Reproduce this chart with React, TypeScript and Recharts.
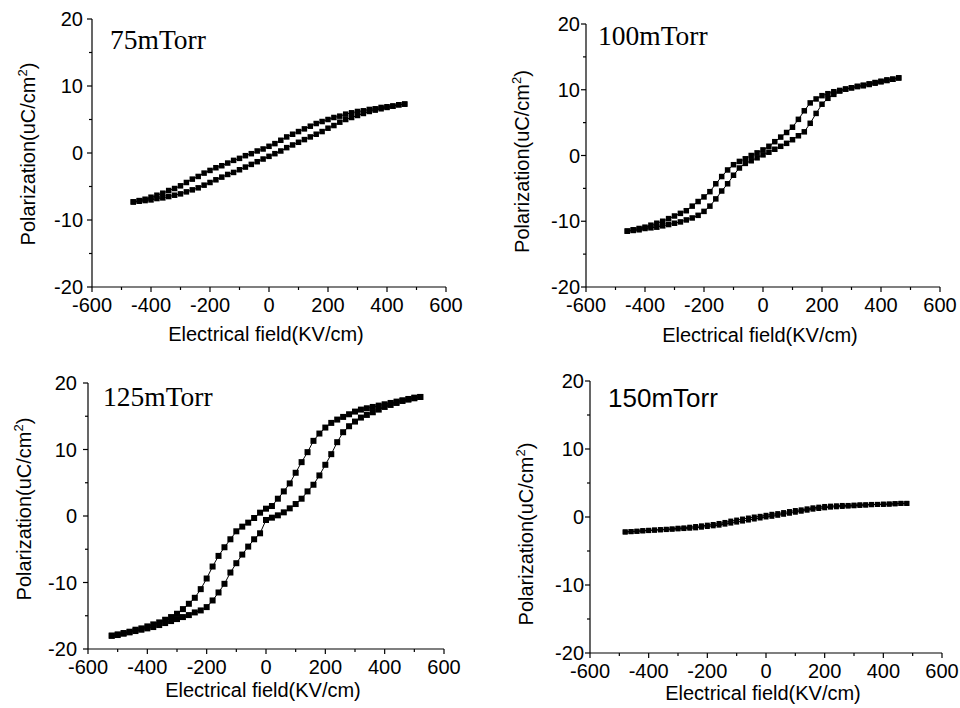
import React from 'react'
import { Scatter, ScatterChart, XAxis, YAxis } from 'recharts'

// electric field grids (KV/cm)
const FIELD_460 = [
  -460, -440, -420, -400, -380, -360, -340, -320, -300, -280, -260, -240, -220, -200, -180, -160,
  -140, -120, -100, -80, -60, -40, -20, 0, 20, 40, 60, 80, 100, 120, 140, 160, 180, 200, 220, 240,
  260, 280, 300, 320, 340, 360, 380, 400, 420, 440, 460,
]
const FIELD_480 = [
  -480, -460, -440, -420, -400, -380, -360, -340, -320, -300, -280, -260, -240, -220, -200, -180,
  -160, -140, -120, -100, -80, -60, -40, -20, 0, 20, 40, 60, 80, 100, 120, 140, 160, 180, 200, 220,
  240, 260, 280, 300, 320, 340, 360, 380, 400, 420, 440, 460, 480,
]
const FIELD_520 = [
  -520, -500, -480, -460, -440, -420, -400, -380, -360, -340, -320, -300, -280, -260, -240, -220,
  -200, -180, -160, -140, -120, -100, -80, -60, -40, -20, 0, 20, 40, 60, 80, 100, 120, 140, 160, 180,
  200, 220, 240, 260, 280, 300, 320, 340, 360, 380, 400, 420, 440, 460, 480, 500, 520,
]

// polarization (uC/cm2), both branches listed by increasing field
// "falling" = upper branch (field sweeping down), "rising" = lower branch
const P75_FALLING = [
  -7.3, -7.1, -6.9, -6.6, -6.3, -6.0, -5.6, -5.3, -4.9, -4.4, -3.9, -3.5, -3.0, -2.6, -2.2, -1.9,
  -1.5, -1.1, -0.8, -0.4, -0.1, 0.3, 0.6, 1.0, 1.4, 1.9, 2.4, 2.8, 3.2, 3.6, 4.0, 4.4, 4.7, 5.0, 5.3,
  5.5, 5.8, 6.0, 6.2, 6.3, 6.5, 6.6, 6.8, 6.9, 7.0, 7.2, 7.3,
]
const P75_RISING = [
  -7.3, -7.2, -7.1, -7.0, -6.8, -6.7, -6.5, -6.3, -6.1, -5.8, -5.5, -5.2, -4.8, -4.4, -4.0, -3.6,
  -3.2, -2.9, -2.5, -2.1, -1.7, -1.3, -0.9, -0.5, -0.1, 0.3, 0.8, 1.2, 1.6, 2.0, 2.4, 2.8, 3.2, 3.7,
  4.1, 4.6, 5.0, 5.3, 5.6, 5.9, 6.2, 6.4, 6.6, 6.8, 7.0, 7.2, 7.3,
]

const P100_FALLING = [
  -11.5, -11.3, -11.1, -10.9, -10.6, -10.3, -10.0, -9.6, -9.2, -8.8, -8.4, -7.7, -7.0, -6.3, -5.5,
  -4.3, -3.2, -2.2, -1.4, -0.9, -0.5, 0.0, 0.4, 0.85, 1.4, 2.1, 2.8, 3.5, 4.3, 5.5, 6.8, 8.0, 8.6,
  9.1, 9.4, 9.7, 9.9, 10.1, 10.3, 10.5, 10.6, 10.8, 11.0, 11.2, 11.4, 11.6, 11.8,
]
const P100_RISING = [
  -11.5, -11.4, -11.3, -11.1, -11.0, -10.9, -10.7, -10.5, -10.3, -10.1, -9.8, -9.5, -9.1, -8.5,
  -7.7, -6.6, -5.4, -4.3, -3.0, -1.9, -1.2, -0.8, -0.35, 0.1, 0.5, 0.95, 1.4, 1.85, 2.4, 3.0, 3.6,
  4.9, 6.4, 7.8, 8.7, 9.3, 9.8, 10.1, 10.3, 10.5, 10.7, 10.9, 11.1, 11.3, 11.5, 11.6, 11.8,
]

const P125_FALLING = [
  -18.0, -17.8, -17.6, -17.4, -17.1, -16.9, -16.6, -16.3, -16.0, -15.6, -15.2, -14.7, -14.0, -13.2,
  -12.3, -11.0, -9.4, -7.6, -6.0, -4.7, -3.5, -2.3, -1.6, -1.0, -0.3, 0.5, 1.1, 1.5, 2.6, 3.7, 4.9,
  6.5, 8.1, 9.6, 11.3, 12.4, 13.3, 14.0, 14.5, 14.9, 15.3, 15.7, 16.0, 16.2, 16.4, 16.6, 16.8, 17.0,
  17.2, 17.4, 17.6, 17.8, 17.9,
]
const P125_RISING = [
  -18.0, -17.9, -17.7, -17.5, -17.3, -17.1, -16.9, -16.7, -16.4, -16.1, -15.8, -15.5, -15.2, -14.9,
  -14.5, -14.2, -13.7, -12.7, -11.5, -10.2, -8.5, -7.1, -5.8, -4.6, -3.5, -2.6, -0.6, -0.25, 0.1,
  0.55, 1.15, 1.8, 2.6, 3.7, 4.7, 6.1, 7.7, 9.3, 11.1, 12.6, 13.5, 14.2, 14.8, 15.2, 15.6, 16.0, 16.4,
  16.7, 17.0, 17.3, 17.5, 17.7, 17.9,
]

const P150_FALLING = [
  -2.2, -2.15, -2.1, -2.0, -1.95, -1.9, -1.85, -1.8, -1.75, -1.65, -1.6, -1.5, -1.4, -1.3, -1.2,
  -1.1, -0.95, -0.8, -0.6, -0.45, -0.3, -0.15, 0.0, 0.1, 0.25, 0.4, 0.5, 0.65, 0.8, 0.95, 1.05, 1.2,
  1.35, 1.45, 1.55, 1.6, 1.65, 1.7, 1.7, 1.75, 1.8, 1.8, 1.85, 1.85, 1.9, 1.9, 1.95, 2.0, 2.0,
]
const P150_RISING = [
  -2.2, -2.15, -2.1, -2.05, -2.0, -1.95, -1.9, -1.85, -1.8, -1.75, -1.7, -1.65, -1.6, -1.5, -1.4,
  -1.3, -1.2, -1.05, -0.9, -0.75, -0.6, -0.45, -0.3, -0.15, 0.0, 0.1, 0.25, 0.4, 0.55, 0.7, 0.85,
  1.0, 1.15, 1.25, 1.35, 1.45, 1.5, 1.55, 1.6, 1.65, 1.7, 1.75, 1.8, 1.85, 1.85, 1.9, 1.95, 2.0, 2.0,
]

const X_TICKS = [-600, -500, -400, -300, -200, -100, 0, 100, 200, 300, 400, 500, 600]
const Y_TICKS = [-20, -15, -10, -5, 0, 5, 10, 15, 20]

const SANS = '"Liberation Sans", Arial, sans-serif'
const SERIF = '"Liberation Serif", "Times New Roman", serif'

const Y_AXIS_W = 90
const X_AXIS_H = 60
const MARGIN = { top: 10, right: 30, left: 0, bottom: 0 }

const PANELS = [
  { key: 'p75', left: 2, top: 9, plotW: 354, plotH: 268, field: FIELD_460, falling: P75_FALLING, rising: P75_RISING, marker: 5.5, tickGap: 9, yShift: 1, xTitleDy: 54 },
  { key: 'p100', left: 496, top: 14, plotW: 354, plotH: 263, field: FIELD_460, falling: P100_FALLING, rising: P100_RISING, marker: 5.5, tickGap: 6, yShift: 6, xTitleDy: 55 },
  { key: 'p125', left: -2, top: 373, plotW: 356, plotH: 266, field: FIELD_520, falling: P125_FALLING, rising: P125_RISING, marker: 6, tickGap: 11, yShift: -7, xTitleDy: 48 },
  { key: 'p150', left: 500, top: 371, plotW: 352, plotH: 272, field: FIELD_480, falling: P150_FALLING, rising: P150_RISING, marker: 5, tickGap: 6, yShift: 17, xTitleDy: 47 },
]

const PANEL_LABELS = [
  { text: '75mTorr', x: 110, y: 49, font: SERIF, size: 27.5 },
  { text: '100mTorr', x: 598, y: 45, font: SERIF, size: 27.5 },
  { text: '125mTorr', x: 103, y: 406, font: SERIF, size: 27.5 },
  { text: '150mTorr', x: 608, y: 407, font: SANS, size: 26 },
]

function XTick({ x, y, payload }: any) {
  const major = payload.value % 200 === 0
  return (
    <g>
      <line x1={x} x2={x} y1={y} y2={y + (major ? 5 : 3)} stroke="#000" strokeWidth={1.2} />
      {major && (
        <text x={x} y={y + 25} textAnchor="middle" fontSize={20} fontFamily={SANS} fill="#000">
          {payload.value}
        </text>
      )}
    </g>
  )
}

function YTick({ x, y, payload, gap }: any) {
  const major = payload.value % 10 === 0
  return (
    <g>
      <line x1={x} x2={x - (major ? 5 : 3)} y1={y} y2={y} stroke="#000" strokeWidth={1.2} />
      {major && (
        <text x={x - gap} y={y} dy="0.36em" textAnchor="end" fontSize={20} fontFamily={SANS} fill="#000">
          {payload.value}
        </text>
      )}
    </g>
  )
}

function XTitle({ viewBox, dy }: any) {
  const cx = viewBox.x + viewBox.width / 2 - 3
  return (
    <text x={cx} y={viewBox.y + dy} textAnchor="middle" fontSize={20} fontFamily={SANS} fill="#000">
      Electrical field(KV/cm)
    </text>
  )
}

function YTitle({ viewBox, shift }: any) {
  const cx = viewBox.x + viewBox.width - 57
  const cy = viewBox.y + viewBox.height / 2 + shift
  return (
    <text x={cx} y={cy} transform={`rotate(-90, ${cx}, ${cy})`} textAnchor="middle" fontSize={20} fontFamily={SANS} fill="#000">
      Polarization(uC/cm<tspan dy={-8} fontSize={13}>2</tspan><tspan dy={8}>)</tspan>
    </text>
  )
}

function squareMarker(side: number) {
  return (props: any) => (
    <rect x={props.cx - side / 2} y={props.cy - side / 2} width={side} height={side} fill="#000" />
  )
}

function LoopPanel({ panel }: { panel: (typeof PANELS)[number] }) {
  const width = Y_AXIS_W + panel.plotW + MARGIN.right
  const height = MARGIN.top + panel.plotH + X_AXIS_H
  const falling = panel.field.map((x, i) => ({ x, y: panel.falling[i] }))
  const rising = panel.field.map((x, i) => ({ x, y: panel.rising[i] }))
  const shape = squareMarker(panel.marker)
  return (
    <div style={{ position: 'absolute', left: panel.left, top: panel.top }}>
      <ScatterChart width={width} height={height} margin={MARGIN}>
        <XAxis
          type="number" dataKey="x" domain={[-600, 600]} ticks={X_TICKS} interval={0}
          height={X_AXIS_H} tickSize={0} tickMargin={0} tickLine={false}
          axisLine={{ stroke: '#000', strokeWidth: 1.2 }}
          tick={<XTick />}
          label={<XTitle dy={panel.xTitleDy} />}
        />
        <YAxis
          type="number" dataKey="y" domain={[-20, 20]} ticks={Y_TICKS} interval={0}
          width={Y_AXIS_W} tickSize={0} tickMargin={0} tickLine={false}
          axisLine={{ stroke: '#000', strokeWidth: 1.2 }}
          tick={<YTick gap={panel.tickGap} />}
          label={<YTitle shift={panel.yShift} />}
        />
        <Scatter data={falling} line={{ stroke: '#000', strokeWidth: 1 }} lineType="joint" shape={shape} isAnimationActive={false} />
        <Scatter data={rising} line={{ stroke: '#000', strokeWidth: 1 }} lineType="joint" shape={shape} isAnimationActive={false} />
      </ScatterChart>
    </div>
  )
}

export default function App() {
  return (
    <div style={{ position: 'absolute', left: 0, top: 0, width: 960, height: 708, background: '#fff', overflow: 'hidden' }}>
      {PANELS.map(p => <LoopPanel key={p.key} panel={p} />)}
      <svg width={960} height={708} style={{ position: 'absolute', left: 0, top: 0, pointerEvents: 'none' }}>
        {PANEL_LABELS.map(l => (
          <text key={l.text} x={l.x} y={l.y} fontSize={l.size} fontFamily={l.font} fill="#000">{l.text}</text>
        ))}
      </svg>
    </div>
  )
}
